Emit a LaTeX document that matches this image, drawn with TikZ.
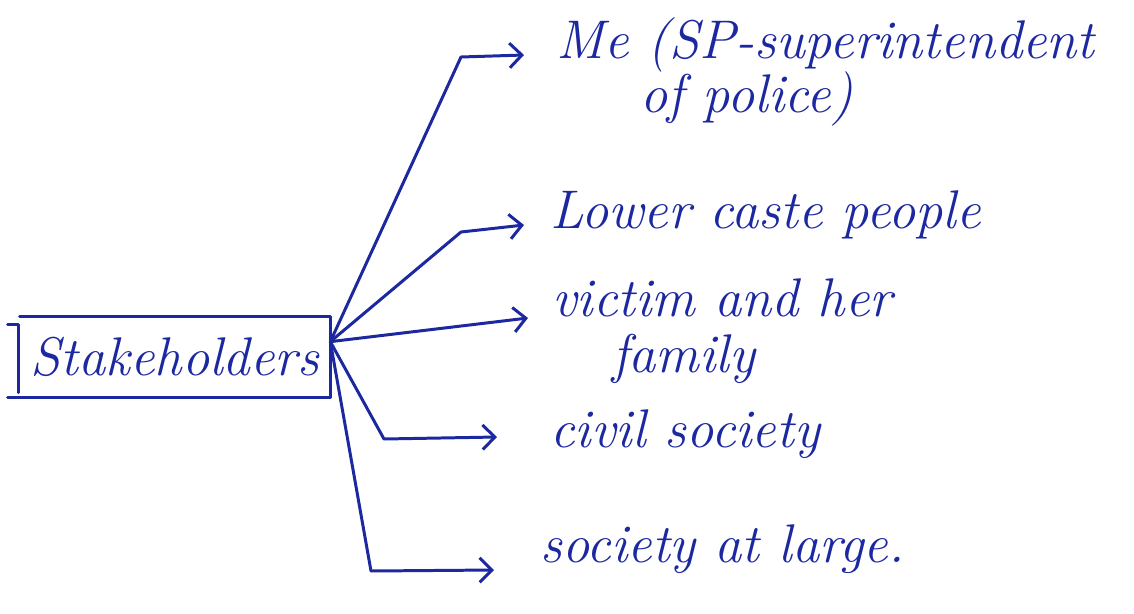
\documentclass[tikz,border=0pt]{standalone}
\usepackage{tikz}
\usetikzlibrary{arrows.meta}

\definecolor{ink}{RGB}{28,40,160}

\begin{document}
\begin{tikzpicture}[
    x=0.02cm, y=-0.02cm,
    link/.style={ink, line width=1.7pt, line cap=round, line join=round},
    arrowlink/.style={link, -{Straight Barb[length=7pt, width=14pt, line width=1.7pt]}},
    holder/.style={ink, font=\fontsize{31}{36}\selectfont\itshape, inner sep=0pt},
    box/.style={minimum width=6.2cm, minimum height=1.6cm, inner sep=0pt}
]
\useasboundingbox (0,0) rectangle (1134,613);

% Central box (open bracket on the left)
\node[box, holder] (stake) at (175,357) {Stakeholders};
\draw[link] (stake.north west) -- (stake.north east) -- (stake.south east);
\draw[link] ([xshift=-0.24cm]stake.south west) -- (stake.south east);
\draw[link] ([xshift=-0.24cm, yshift=-0.16cm]stake.north west) -- ++(11,0) -- ++(0,68);
\coordinate (hub) at ([yshift=-0.5cm]stake.north east);

% Arrow ends
\coordinate (t1) at (524,55);
\coordinate (t2) at (524,225);
\coordinate (t3) at (528,318);
\coordinate (t4) at (497,437);
\coordinate (t5) at (494,570);

% Stakeholders
\node[holder, anchor=base west] (me1) at (556,58) {Me (SP-superintendent};
\node[holder, anchor=base west] (me2) at (640,112) {of police)};
\node[holder, anchor=base west] (lower) at (550,228) {Lower caste people};
\node[holder, anchor=base west] (victim1) at (552,316) {victim and her};
\node[holder, anchor=base west] (victim2) at (612,372) {family};
\node[holder, anchor=base west] (civil) at (550,447) {civil society};
\node[holder, anchor=base west] (society) at (540,562) {society at large.};

% Branches
\draw[arrowlink] (hub) -- (461,57) -- (t1);
\draw[arrowlink] (hub) -- (461,232) -- (t2);
\draw[arrowlink] (hub) -- (t3);
\draw[arrowlink] (hub) -- (384,439) -- (t4);
\draw[arrowlink] (hub) -- (371,571) -- (t5);

\end{tikzpicture}
\end{document}
